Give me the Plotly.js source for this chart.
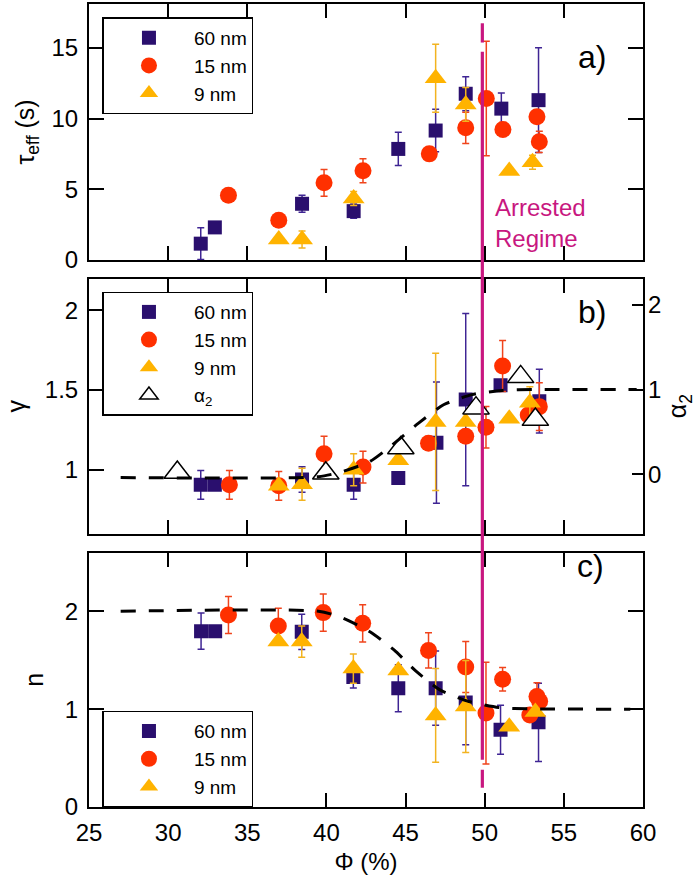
<!DOCTYPE html>
<html>
<head>
<meta charset="utf-8">
<script src="https://cdn.plot.ly/plotly-3.0.1.min.js"></script>
<style>html,body{margin:0;padding:0;background:#fff}#chart{width:700px;height:877px}</style>
</head>
<body>
<div id="chart"></div>
<script>
// ---------- Panel a: tau_eff (s) ----------
const a60_x = [32.06, 32.95, 38.46, 41.72, 44.54, 46.9, 48.8, 51.05, 53.4];
const a60_y = [1.15, 2.3, 3.97, 3.45, 7.85, 9.15, 11.75, 10.7, 11.3];
const a60_e = [1.12, null, 0.6, 0.5, 1.18, 1.5, 1.2, 1.1, 3.7];
const a15_x = [33.81, 36.99, 39.85, 42.31, 46.5, 48.8, 50.1, 51.15, 53.3, 53.45];
const a15_y = [4.58, 2.81, 5.45, 6.3, 7.5, 9.34, 11.42, 9.22, 10.12, 8.35];
const a15_e = [null, 0.4, 0.95, 0.85, 0.3, 1.1, 4.05, 0.5, null, 0.75];
const a9_x = [36.99, 38.46, 41.72, 46.9, 48.8, 51.55, 53.02];
const a9_y = [1.44, 1.44, 4.34, 12.85, 11.0, 6.28, 6.91];
const a9_e = [null, 0.6, 0.5, 2.4, 1.2, null, 0.5];

// ---------- Panel b: gamma (left) and alpha_2 (right) ----------
const b60_x = [32.06, 32.95, 38.46, 41.72, 44.54, 46.95, 48.8, 51.0, 53.45];
const b60_y = [0.906, 0.906, 0.94, 0.906, 0.948, 1.17, 1.44, 1.53, 1.43];
const b60_e = [0.09, null, 0.08, 0.09, 0.02, 0.38, 0.54, null, 0.2];
const b15_x = [33.87, 36.99, 39.85, 42.31, 46.45, 48.8, 50.08, 51.13, 52.75, 53.45];
const b15_y = [0.906, 0.90, 1.10, 1.017, 1.167, 1.21, 1.267, 1.65, 1.344, 1.396];
const b15_e = [0.09, 0.09, 0.11, 0.1, null, null, 0.13, 0.16, null, 0.15];
const b9_x = [36.99, 38.46, 41.72, 44.54, 46.9, 48.8, 51.55, 52.85];
const b9_y = [0.9, 0.91, 1.0, 1.06, 1.30, 1.30, 1.32, 1.42];
const b9_e = [null, 0.1, 0.1, null, 0.43, null, null, 0.1];
const alpha2_x = [30.58, 39.96, 44.7, 49.45, 52.27, 53.2];
const alpha2_y = [0.02, 0.01, 0.31, 0.78, 1.15, 0.645];
const fitB_x = [27.0, 39.5, 41.0, 42.75, 44.06, 45.8, 47.4, 49.2, 51.1, 53.0, 59.6];
const fitB_y = [-0.04, -0.03, 0.03, 0.15, 0.33, 0.6, 0.82, 0.94, 0.99, 1.0, 1.0];

// ---------- Panel c: n ----------
const c60_x = [32.08, 32.97, 38.44, 41.7, 44.54, 46.9, 48.8, 51.0, 53.4];
const c60_y = [1.796, 1.796, 1.79, 1.327, 1.214, 1.214, 1.067, 0.789, 0.865];
const c60_e = [0.185, null, 0.18, 0.11, 0.24, 0.38, 0.43, 0.25, 0.4];
const c15_x = [33.81, 36.96, 39.8, 42.29, 46.45, 48.8, 50.08, 51.13, 52.85, 53.3, 53.47];
const c15_y = [1.962, 1.85, 1.986, 1.877, 1.6, 1.43, 0.96, 1.306, 0.94, 1.13, 1.08];
const c15_e = [0.19, 0.18, 0.19, 0.19, 0.18, 0.26, 0.52, 0.12, null, 0.14, null];
const c9_x = [36.96, 38.44, 41.7, 44.54, 46.9, 48.8, 51.55, 53.2];
const c9_y = [1.69, 1.69, 1.414, 1.394, 0.936, 1.027, 0.82, 0.97];
const c9_e = [null, 0.16, 0.15, null, 0.48, 0.47, null, null];
const fitC_x = [27.0, 39.5, 40.9, 42.75, 44.27, 45.64, 47.17, 49.0, 50.9, 52.7, 59.2];
const fitC_y = [2.0, 2.0, 1.94, 1.79, 1.605, 1.39, 1.197, 1.078, 1.016, 1.003, 1.0];

const seriesNames = ['60 nm', '15 nm', '9 nm'];
const alphaName = '\u03b1<sub>2</sub>';
const arrestedPhi = 49.85;
const arrestedLabel = 'Arrested<br>Regime';
const xTicks = [25, 30, 35, 40, 45, 50, 55, 60];

const FONT = 'Liberation Sans, Arial, sans-serif';
const C60 = '#2a0f6e', E60 = '#3f2594';
const C15 = '#ff3000', E15 = '#f0441c';
const C9 = '#ffb300', E9 = '#f2b320';
const MAG = '#c8177f';

function series(x, y, e, name, sym, size, col, ecol, xa, ya, leg) {
  return {
    type: 'scatter', mode: 'markers', x: x, y: y, name: name,
    xaxis: xa, yaxis: ya, legend: leg,
    marker: {symbol: sym, size: size, color: col},
    error_y: e ? {type: 'data', array: e, symmetric: true, color: ecol, thickness: 1.5, width: 3.5} : undefined
  };
}

const traces = [
  series(a60_x, a60_y, a60_e, seriesNames[0], 'square', 14, C60, E60, 'x', 'y', 'legend'),
  series(a15_x, a15_y, a15_e, seriesNames[1], 'circle', 17, C15, E15, 'x', 'y', 'legend'),
  series(a9_x, a9_y, a9_e, seriesNames[2], 'triangle-up', 19, C9, E9, 'x', 'y', 'legend'),

  series(b60_x, b60_y, b60_e, seriesNames[0], 'square', 14, C60, E60, 'x2', 'y2', 'legend2'),
  series(b15_x, b15_y, b15_e, seriesNames[1], 'circle', 17, C15, E15, 'x2', 'y2', 'legend2'),
  series(b9_x, b9_y, b9_e, seriesNames[2], 'triangle-up', 19, C9, E9, 'x2', 'y2', 'legend2'),
  {type: 'scatter', mode: 'markers', x: alpha2_x, y: alpha2_y, name: alphaName,
   xaxis: 'x2', yaxis: 'y4', legend: 'legend2',
   marker: {symbol: 'triangle-up', size: 23, color: '#ffffff', line: {color: '#000', width: 1.5}}},
  {type: 'scatter', mode: 'lines', x: fitB_x, y: fitB_y, xaxis: 'x2', yaxis: 'y4', showlegend: false,
   line: {color: '#000', width: 3, dash: '15px,13px', shape: 'spline', smoothing: 0.6}},

  series(c60_x, c60_y, c60_e, seriesNames[0], 'square', 14, C60, E60, 'x3', 'y3', 'legend3'),
  series(c15_x, c15_y, c15_e, seriesNames[1], 'circle', 17, C15, E15, 'x3', 'y3', 'legend3'),
  series(c9_x, c9_y, c9_e, seriesNames[2], 'triangle-up', 19, C9, E9, 'x3', 'y3', 'legend3'),
  {type: 'scatter', mode: 'lines', x: fitC_x, y: fitC_y, xaxis: 'x3', yaxis: 'y3', showlegend: false,
   line: {color: '#000', width: 3, dash: '15px,13px', shape: 'spline', smoothing: 0.6}}
];

function xax(anchor, labels) {
  return {
    anchor: anchor, domain: [0, 1], range: [25, 60], tickvals: xTicks,
    ticks: 'inside', ticklen: 14, tickwidth: 2, tickcolor: '#000',
    showline: true, linewidth: 2, linecolor: '#000', mirror: 'ticks',
    showgrid: false, zeroline: false, showticklabels: labels,
    tickfont: {family: FONT, size: 24, color: '#000'}, ticklabelstandoff: 3
  };
}
function yax(anchor, domain, range, tickvals, mirror) {
  return {
    anchor: anchor, domain: domain, range: range, tickvals: tickvals,
    ticks: 'inside', ticklen: 15, tickwidth: 2, tickcolor: '#000',
    showline: true, linewidth: 2, linecolor: '#000', mirror: mirror,
    showgrid: false, zeroline: false,
    tickfont: {family: FONT, size: 24, color: '#000'}, ticklabelstandoff: 4
  };
}

const ya = yax('x', [0.6813, 1], [0, 18.1], [0, 5, 10, 15], 'ticks');
ya.title = {text: '\u03c4<sub>eff</sub> (s)', font: {family: FONT, size: 25, color: '#000'}, standoff: 10};
const yb = yax('x2', [0.3402, 0.658], [0.599, 2.198], [1, 1.5, 2], true);
yb.title = {text: '\u03b3', font: {family: FONT, size: 25, color: '#000'}, standoff: 12};
const yc = yax('x3', [0, 0.3169], [0, 2.6], [0, 1, 2], 'ticks');
yc.title = {text: 'n', font: {family: FONT, size: 25, color: '#000'}, standoff: 14};
const yd = {
  overlaying: 'y2', side: 'right', anchor: 'x2', range: [-0.705, 2.311], tickvals: [0, 1, 2],
  ticks: 'inside', ticklen: 11, tickwidth: 2, tickcolor: '#000', showline: false,
  showgrid: false, zeroline: false,
  tickfont: {family: FONT, size: 24, color: '#000'}, ticklabelstandoff: 4,
  title: {text: alphaName, font: {family: FONT, size: 25, color: '#000'}, standoff: 8}
};
const xc = xax('y3', true);
xc.title = {text: '\u03a6 (%)', font: {family: FONT, size: 24, color: '#000'}, standoff: 8};

function legendBox(y) {
  return {x: 0.0243, y: y, xanchor: 'left', yanchor: 'top', bgcolor: '#fff',
          bordercolor: '#000', borderwidth: 1.5, itemwidth: 80,
          font: {family: FONT, size: 19, color: '#000'}};
}

const layout = {
  width: 700, height: 877,
  margin: {l: 88.5, r: 57, t: 4, b: 69.7},
  paper_bgcolor: '#fff', plot_bgcolor: '#fff',
  font: {family: FONT, color: '#000'},
  xaxis: xax('y', false), yaxis: ya,
  xaxis2: xax('y2', false), yaxis2: yb, yaxis4: yd,
  xaxis3: xc, yaxis3: yc,
  legend: legendBox(0.9834),
  legend2: legendBox(0.6419),
  legend3: legendBox(0.1199),
  shapes: [
    {type: 'line', xref: 'x', yref: 'paper', x0: arrestedPhi, x1: arrestedPhi, y0: 0.952, y1: 0.976,
     line: {color: MAG, width: 3.2}},
    {type: 'line', xref: 'x', yref: 'paper', x0: arrestedPhi, x1: arrestedPhi, y0: 0.0589, y1: 0.9406,
     line: {color: MAG, width: 3.2}},
    {type: 'line', xref: 'x', yref: 'paper', x0: arrestedPhi, x1: arrestedPhi, y0: 0.024, y1: 0.0464,
     line: {color: MAG, width: 3.2}}
  ],
  annotations: [
    {text: 'a)', xref: 'paper', yref: 'paper', x: 0.937, y: 0.959, showarrow: false,
     font: {family: FONT, size: 32, color: '#000'}},
    {text: 'b)', xref: 'paper', yref: 'paper', x: 0.937, y: 0.617, showarrow: false,
     font: {family: FONT, size: 32, color: '#000'}},
    {text: 'c)', xref: 'paper', yref: 'paper', x: 0.933, y: 0.2746, showarrow: false,
     font: {family: FONT, size: 32, color: '#000'}},
    {text: arrestedLabel, xref: 'x', yref: 'y', x: 50.5, y: 2.63, xanchor: 'left', yanchor: 'middle',
     align: 'left', showarrow: false, font: {family: FONT, size: 24, color: MAG}}
  ]
};

Plotly.newPlot('chart', traces, layout, {staticPlot: true, displayModeBar: false});
</script>
</body>
</html>
